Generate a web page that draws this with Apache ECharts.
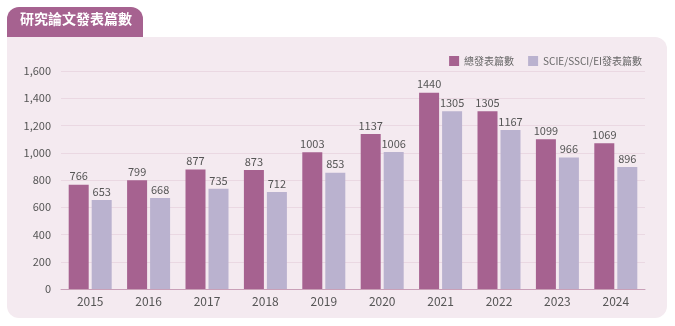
<!DOCTYPE html>
<html><head><meta charset="utf-8">
<script src="https://cdn.jsdelivr.net/npm/echarts@6/dist/echarts.min.js"></script>
<style>html,body{margin:0;padding:0;background:#fff}#c{width:675px;height:326px}</style>
</head><body><div id="c"></div>
<script>
const title = '研究論文發表篇數';
const years = ['2015','2016','2017','2018','2019','2020','2021','2022','2023','2024'];
const seriesNames = ['總發表篇數','SCIE/SSCI/EI發表篇數'];
const totalPubs = [766,799,877,873,1003,1137,1440,1305,1099,1069];
const sciPubs = [653,668,735,712,853,1006,1305,1167,966,896];
const yTicks = {min:0,max:1600,interval:200};

const font = "'Noto Sans CJK TC','Noto Sans',sans-serif";
const chart = echarts.init(document.getElementById('c'));
chart.setOption({
  animation:false,
  textStyle:{fontFamily:font},
  graphic:[
    {type:'rect',z:-10,shape:{x:7,y:7,width:136,height:40,r:[12,12,0,0]},style:{fill:'#a66290'}},
    {type:'rect',z:-9,shape:{x:7,y:37,width:660,height:281,r:[0,12,12,12]},style:{fill:'#f4eaf0'}},
    {type:'text',z:-8,left:20,top:12,style:{text:title,fill:'#fff',font:"bold 14px "+font}}
  ],
  legend:{top:51,right:28,itemWidth:10,itemHeight:10,itemGap:14,
    textStyle:{color:'#666',fontSize:10,fontFamily:font},
    data:[{name:seriesNames[0],icon:'rect'},{name:seriesNames[1],icon:'rect'}]},
  grid:{left:61,right:30,top:71,bottom:37},
  xAxis:{type:'category',data:years,
    axisLine:{lineStyle:{color:'#c9a0b8'}},axisTick:{show:false},
    axisLabel:{color:'#555',fontSize:12,margin:6}},
  yAxis:{type:'value',min:yTicks.min,max:yTicks.max,interval:yTicks.interval,
    axisLabel:{color:'#555',fontSize:11,margin:10,formatter:v=>v.toLocaleString('en-US')},
    splitLine:{lineStyle:{color:'#ead8e2'}}},
  series:[
    {name:seriesNames[0],type:'bar',data:totalPubs,barWidth:20,barGap:'15%',itemStyle:{color:'#a66290'},
      label:{show:true,position:'top',distance:3,color:'#555',fontSize:11}},
    {name:seriesNames[1],type:'bar',data:sciPubs,barWidth:20,itemStyle:{color:'#bab2cf'},
      label:{show:true,position:'top',distance:3,color:'#555',fontSize:11}}
  ]
});
</script></body></html>
